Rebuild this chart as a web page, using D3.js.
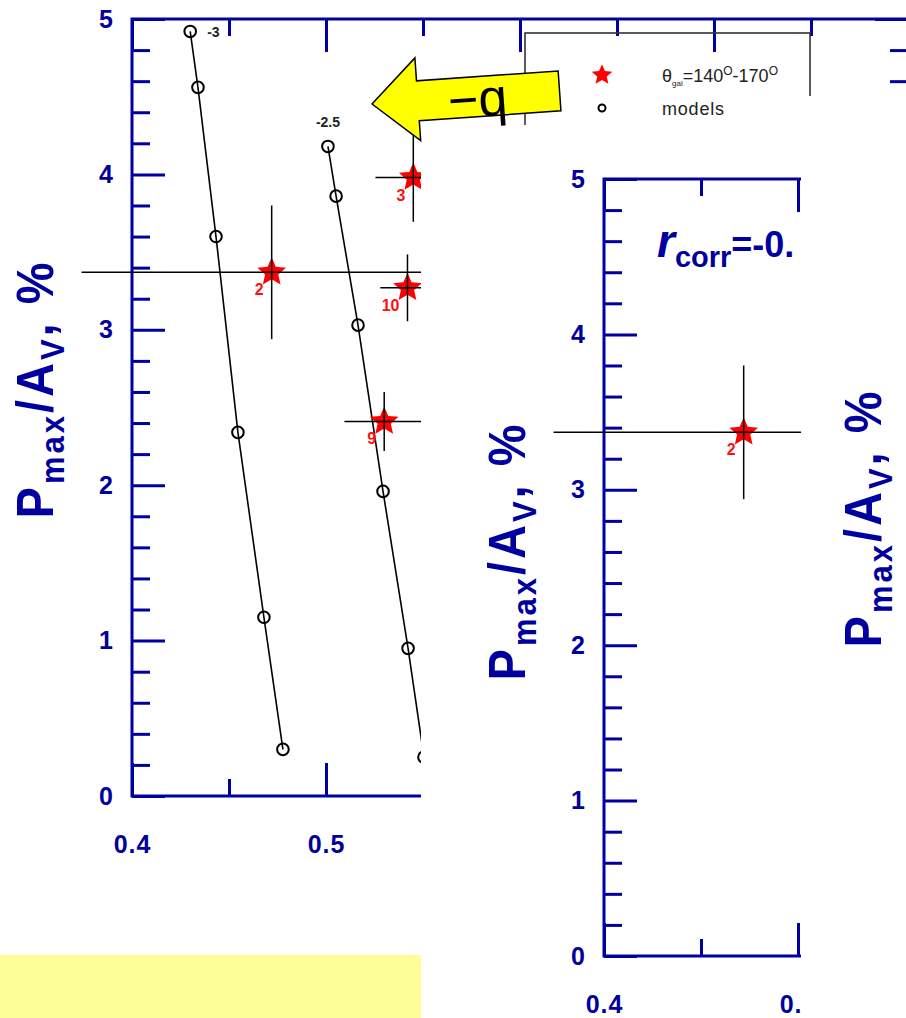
<!DOCTYPE html>
<html><head><meta charset="utf-8">
<script src="https://cdn.jsdelivr.net/npm/d3@7"></script>
<style>
html,body{margin:0;padding:0;background:#fff;}
svg{display:block;}
text{font-family:"Liberation Sans",Arial,sans-serif;}
</style></head><body>
<svg id="chart" width="906" height="1018"></svg>
<script>
// Polarization efficiency P_max/A_V against x: observed stars with error bars and model tracks.
const starLabels = ["2", "3", "10", "9"];
const starX = [0.472, 0.545, 0.542, 0.530];
const starY = [3.37, 3.98, 3.27, 2.41];
const starXErr = [0.098, 0.0195, 0.014, 0.0205];
const starYErr = [0.43, 0.285, 0.215, 0.19];

const modelNames = ["-3", "-2.5"];
const modelX = [
  [0.430, 0.434, 0.4433, 0.4546, 0.468, 0.4778],
  [0.501, 0.5052, 0.5165, 0.5294, 0.5423, 0.5505]
];
const modelY = [
  [4.92, 4.56, 3.60, 2.34, 1.15, 0.30],
  [4.18, 3.86, 3.03, 1.96, 0.95, 0.25]
];

const xMajor = [0.4, 0.5, 0.6, 0.7, 0.8];
const xMinor = [0.45, 0.55, 0.65, 0.75];
const xTickLabels = ["0.4", "0.5", "0.6", "0.7", "0.8"];
const yMajor = [0, 1, 2, 3, 4, 5];
const yMinor = [0.2, 0.4, 0.6, 0.8, 1.2, 1.4, 1.6, 1.8, 2.2, 2.4, 2.6, 2.8, 3.2, 3.4, 3.6, 3.8, 4.2, 4.4, 4.6, 4.8];
const yTickLabels = ["0", "1", "2", "3", "4", "5"];

// the inset panel holds only star "2"
const insetStars = ["2"];
const legendLabels = ["models"];

const BLUE = "#0000a0";
const W = 776, H = 777;
const x = d3.scaleLinear().domain([0.4, 0.8]).range([0, W]);
const y = d3.scaleLinear().domain([0, 5]).range([H, 0]);

const svg = d3.select("#chart");

// five-pointed star with slightly fat arms
const fatStar = {
  draw(ctx, size) {
    const R = Math.sqrt(size / 1.1), r = R * 0.46;
    for (let i = 0; i < 10; i++) {
      const a = -Math.PI / 2 + i * Math.PI / 5;
      const rad = i % 2 ? r : R;
      const px = rad * Math.cos(a), py = rad * Math.sin(a);
      if (i === 0) ctx.moveTo(px, py); else ctx.lineTo(px, py);
    }
    ctx.closePath();
  }
};

function styleAxis(sel) {
  sel.select(".domain").remove();
  sel.attr("color", BLUE).attr("font-family", null).attr("font-size", null);
  sel.selectAll(".tick line").attr("stroke-width", 3);
  sel.selectAll(".tick text")
    .attr("font-size", 25).attr("font-weight", "bold").attr("letter-spacing", 1);
}

// labelMaxX: tick labels are only written where the panel is visible
function drawFrame(g, labelMaxX) {
  const xl = (d, i) => (x(d) <= labelMaxX ? xTickLabels[i] : "");
  const layers = [
    [d3.axisLeft(y).tickValues(yMajor).tickSize(-33).tickPadding(18).tickFormat((d, i) => yTickLabels[i]), 0, 0],
    [d3.axisLeft(y).tickValues(yMinor).tickSize(-18).tickFormat(""), 0, 0],
    [d3.axisRight(y).tickValues(yMajor).tickSize(-33).tickFormat(""), W, 0],
    [d3.axisRight(y).tickValues(yMinor).tickSize(-18).tickFormat(""), W, 0],
    [d3.axisBottom(x).tickValues(xMajor).tickSize(-33).tickPadding(39).tickFormat(xl), 0, H],
    [d3.axisBottom(x).tickValues(xMinor).tickSize(-17).tickFormat(""), 0, H],
    [d3.axisTop(x).tickValues(xMajor).tickSize(-33).tickFormat(""), 0, 0],
    [d3.axisTop(x).tickValues(xMinor).tickSize(-17).tickFormat(""), 0, 0]
  ];
  layers.forEach(([ax, tx, ty]) => {
    g.append("g").attr("transform", `translate(${tx},${ty})`).call(ax).call(styleAxis);
  });
  g.selectAll(".tick text").filter(function () { return this.textContent === ""; }).remove();
  g.append("rect").attr("x", 0).attr("y", 0).attr("width", W).attr("height", H)
    .attr("fill", "none").attr("stroke", BLUE).attr("stroke-width", 3);
}

function drawYLabel(g, tx, ty) {
  const t = g.append("text")
    .attr("transform", `translate(${tx},${ty}) rotate(-90) scale(1,1.1)`)
    .attr("text-anchor", "middle")
    .attr("font-size", 47).attr("font-weight", "bold")
    .attr("letter-spacing", 3)
    .attr("fill", BLUE);
  t.append("tspan").text("P");
  t.append("tspan").attr("font-size", 31).attr("dy", 10).text("max");
  t.append("tspan").attr("dy", -10).text("/A");
  t.append("tspan").attr("font-size", 31).attr("dy", 10).text("V");
  t.append("tspan").attr("dy", -10).text(", %");
}

function drawStars(g, idxs) {
  const star = d3.symbol().type(fatStar).size(250);
  const s = g.append("g");
  idxs.forEach(i => {
    const cx = x(starX[i]), cy = y(starY[i]);
    s.append("path").attr("d", star).attr("transform", `translate(${cx},${cy})`).attr("fill", "#ff0000");
    s.append("line").attr("x1", x(starX[i] - starXErr[i])).attr("x2", x(starX[i] + starXErr[i]))
      .attr("y1", cy).attr("y2", cy).attr("stroke", "#000").attr("stroke-width", 1.5);
    s.append("line").attr("x1", cx).attr("x2", cx)
      .attr("y1", y(starY[i] - starYErr[i])).attr("y2", y(starY[i] + starYErr[i]))
      .attr("stroke", "#000").attr("stroke-width", 1.5);
    s.append("text").attr("x", cx - 8).attr("y", cy + 23).attr("text-anchor", "end")
      .attr("font-size", 16).attr("font-weight", "bold").attr("fill", "#ff1010")
      .text(starLabels[i]);
  });
}

// ---------- main panel ----------
const main = svg.append("g").attr("transform", "translate(132,19)");
drawFrame(main, 289);
drawYLabel(main, -79, 370);

const line = d3.line().x(d => x(d[0])).y(d => y(d[1]));
modelNames.forEach((name, k) => {
  const pts = modelX[k].map((v, j) => [v, modelY[k][j]]);
  main.append("path").attr("d", line(pts)).attr("fill", "none")
    .attr("stroke", "#000").attr("stroke-width", 1.6);
  main.selectAll(null).data(pts).enter().append("circle")
    .attr("cx", d => x(d[0])).attr("cy", d => y(d[1])).attr("r", 5.8)
    .attr("fill", "none").attr("stroke", "#000").attr("stroke-width", 2);
  const top = pts[0];
  const lbl = main.append("text").attr("font-size", 14).attr("font-weight", "bold").attr("fill", "#222").text(name);
  if (k === 0) lbl.attr("x", x(top[0]) + 17).attr("y", y(top[1]) + 6);
  else lbl.attr("x", x(top[0])).attr("y", y(top[1]) - 19).attr("text-anchor", "middle");
});

drawStars(main, starLabels.map((d, i) => i));

// legend
const leg = main.append("g").attr("transform", "translate(393,14)");
leg.append("rect").attr("width", 285).attr("height", 130).attr("fill", "none")
  .attr("stroke", "#333").attr("stroke-width", 1.6);
leg.append("path").attr("d", d3.symbol().type(fatStar).size(130))
  .attr("transform", "translate(77,42)").attr("fill", "#ff0000");
leg.append("circle").attr("cx", 77).attr("cy", 75).attr("r", 3.5)
  .attr("fill", "none").attr("stroke", "#000").attr("stroke-width", 2);
const lt = leg.append("text").attr("x", 137).attr("y", 49).attr("font-size", 18).attr("fill", "#222");
lt.append("tspan").text("θ");
lt.append("tspan").attr("font-size", 8).attr("dy", 4).text("gal");
lt.append("tspan").attr("dy", -4).text("=140");
lt.append("tspan").attr("font-size", 12).attr("dy", -7).text("O");
lt.append("tspan").attr("dy", 7).text("-170");
lt.append("tspan").attr("font-size", 12).attr("dy", -7).text("O");
leg.append("text").attr("x", 137).attr("y", 82).attr("font-size", 18).attr("fill", "#222")
  .attr("letter-spacing", 0.8).text(legendLabels[0]);

// bottom highlight strip
svg.append("rect").attr("x", 0).attr("y", 955).attr("width", 421).attr("height", 63).attr("fill", "#fefe98");

// panels laid over the right part
svg.append("rect").attr("x", 421).attr("y", 125).attr("width", 380).attr("height", 893).attr("fill", "#fff");
svg.append("rect").attr("x", 801).attr("y", 96).attr("width", 105).attr("height", 922).attr("fill", "#fff");

// ---------- inset panel ----------
svg.append("defs").append("clipPath").attr("id", "insetClip")
  .append("rect").attr("x", -200).attr("y", -80).attr("width", 397).attr("height", 960);
const inset = svg.append("g").attr("transform", "translate(604,179)")
  .append("g").attr("clip-path", "url(#insetClip)");
drawFrame(inset, 200);
drawYLabel(inset, -79, 372);
drawStars(inset, insetStars.map(s => starLabels.indexOf(s)));
const rc = inset.append("text").attr("x", 53).attr("y", 78).attr("fill", BLUE).attr("font-weight", "bold");
rc.append("tspan").attr("font-size", 46).attr("font-style", "italic").text("r");
rc.append("tspan").attr("font-size", 29).attr("dy", 10).text("corr");
rc.append("tspan").attr("font-size", 36).attr("dy", -10).text("=-0.");

// third panel, only its axis title shows
drawYLabel(svg.append("g").attr("transform", "translate(960,148)"), -79, 370);

// ---------- arrow annotation ----------
const arrow = svg.append("g").attr("transform", "translate(372,104) rotate(-4)");
const headL = 46, headT = 43, headB = 40, shaft = 20, len = 188;
arrow.append("path")
  .attr("d", `M0,0 L${headL},${-headT} L${headL},${-shaft} L${len},${-shaft} L${len},${shaft} L${headL},${shaft} L${headL},${headB} Z`)
  .attr("fill", "#ffff00").attr("stroke", "#000").attr("stroke-width", 1.5);
arrow.append("text").attr("x", 76).attr("y", 20)
  .attr("font-family", "'Liberation Serif','Times New Roman',serif").attr("font-size", 52)
  .attr("fill", "#000").text("−q");
</script>
</body></html>
